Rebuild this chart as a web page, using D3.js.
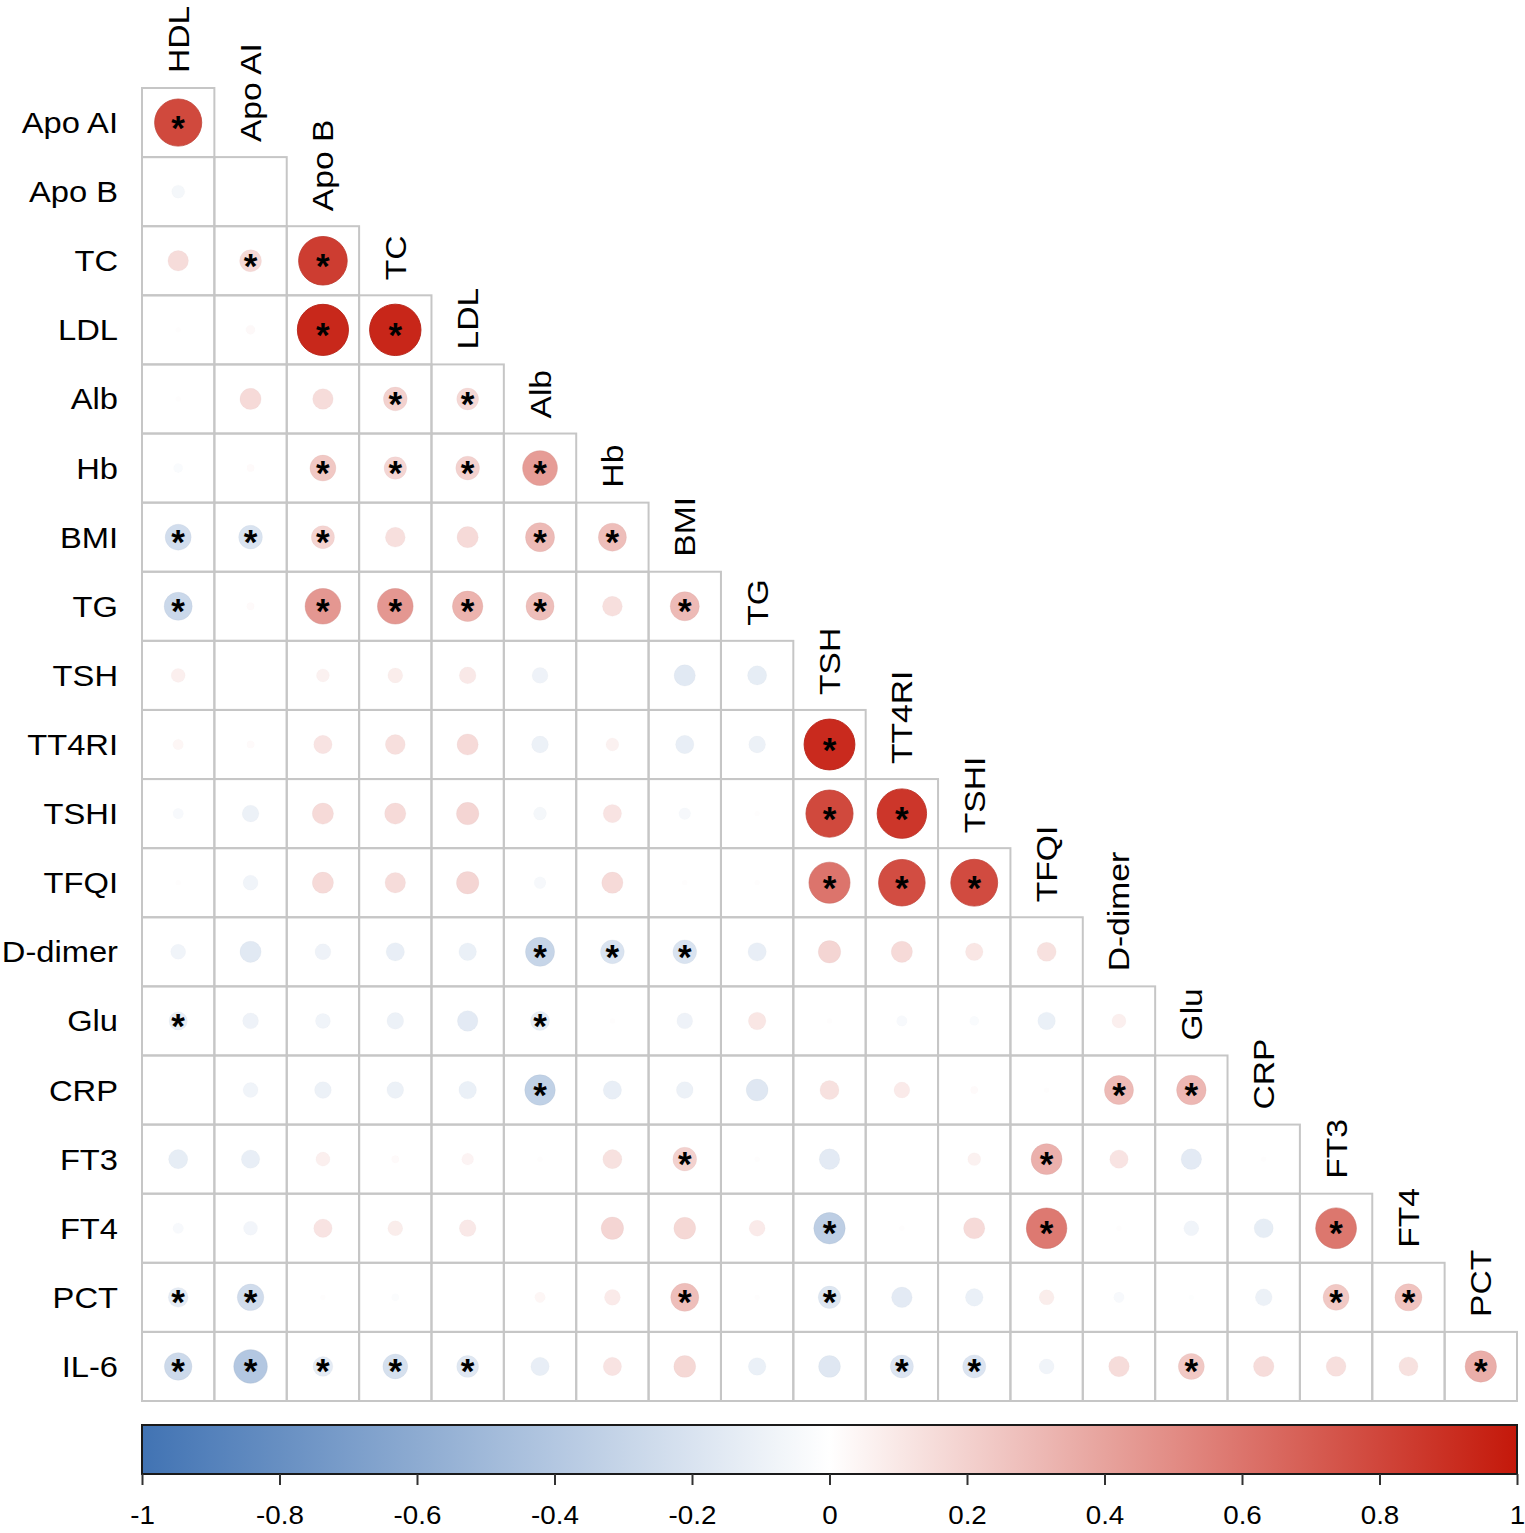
<!DOCTYPE html>
<html>
<head>
<meta charset="utf-8">
<script src="https://cdn.jsdelivr.net/npm/d3@7"></script>
<style>
  body { margin: 0; background: #fff; }
  svg { display: block; font-family: "Liberation Sans", Arial, sans-serif; }
</style>
</head>
<body>
<div id="chart"></div>
<script>
// variables on rows (lower triangle, no diagonal)
var rowLabels = ["Apo AI", "Apo B", "TC", "LDL", "Alb", "Hb", "BMI", "TG", "TSH", "TT4RI",
  "TSHI", "TFQI", "D-dimer", "Glu", "CRP", "FT3", "FT4", "PCT", "IL-6"];
var colLabels = ["HDL", "Apo AI", "Apo B", "TC", "LDL", "Alb", "Hb", "BMI", "TG", "TSH",
  "TT4RI", "TSHI", "TFQI", "D-dimer", "Glu", "CRP", "FT3", "FT4", "PCT"];

// correlation coefficients, row i has i+1 values
var corr = [
  [0.79],
  [-0.06, 0.00],
  [0.15, 0.17, 0.84],
  [0.01, 0.03, 0.93, 0.94],
  [0.01, 0.16, 0.15, 0.20, 0.17],
  [-0.03, 0.02, 0.24, 0.18, 0.20, 0.43],
  [-0.24, -0.20, 0.19, 0.14, 0.16, 0.30, 0.28],
  [-0.28, 0.02, 0.45, 0.45, 0.33, 0.28, 0.14, 0.30],
  [0.07, 0.00, 0.06, 0.08, 0.10, -0.09, 0.00, -0.16, -0.13],
  [0.04, 0.02, 0.12, 0.14, 0.16, -0.10, 0.06, -0.12, -0.10, 0.92],
  [-0.04, -0.10, 0.16, 0.16, 0.18, -0.06, 0.12, -0.05, 0.01, 0.79, 0.87],
  [0.01, -0.08, 0.16, 0.15, 0.18, -0.05, 0.16, 0.01, 0.01, 0.60, 0.77, 0.78],
  [-0.08, -0.16, -0.09, -0.12, -0.11, -0.30, -0.20, -0.20, -0.12, 0.18, 0.16, 0.11, 0.13],
  [-0.12, -0.09, -0.08, -0.10, -0.15, -0.13, 0.01, -0.09, 0.11, 0.01, -0.04, -0.03, -0.11, 0.07],
  [0.00, -0.08, -0.10, -0.10, -0.11, -0.33, -0.12, -0.10, -0.17, 0.13, 0.09, 0.02, 0.01, 0.30, 0.31],
  [-0.13, -0.12, 0.07, 0.02, 0.05, 0.01, 0.13, 0.20, 0.01, -0.15, 0.00, 0.06, 0.34, 0.12, -0.15, 0.01],
  [-0.04, -0.07, 0.12, 0.08, 0.10, 0.00, 0.18, 0.17, 0.09, -0.35, 0.01, 0.16, 0.58, 0.01, -0.08, -0.13, 0.59],
  [-0.14, -0.25, 0.01, -0.02, 0.00, 0.04, 0.09, 0.28, 0.01, -0.18, -0.15, -0.11, 0.08, -0.04, -0.01, -0.10, 0.24, 0.26],
  [-0.27, -0.40, -0.14, -0.22, -0.17, -0.12, 0.12, 0.17, -0.11, -0.17, -0.19, -0.19, -0.08, 0.15, 0.24, 0.15, 0.14, 0.13, 0.35]
];

// 1 = significant (marked with *)
var signif = [
  [1],
  [0, 0],
  [0, 1, 1],
  [0, 0, 1, 1],
  [0, 0, 0, 1, 1],
  [0, 0, 1, 1, 1, 1],
  [1, 1, 1, 0, 0, 1, 1],
  [1, 0, 1, 1, 1, 1, 0, 1],
  [0, 0, 0, 0, 0, 0, 0, 0, 0],
  [0, 0, 0, 0, 0, 0, 0, 0, 0, 1],
  [0, 0, 0, 0, 0, 0, 0, 0, 0, 1, 1],
  [0, 0, 0, 0, 0, 0, 0, 0, 0, 1, 1, 1],
  [0, 0, 0, 0, 0, 1, 1, 1, 0, 0, 0, 0, 0],
  [1, 0, 0, 0, 0, 1, 0, 0, 0, 0, 0, 0, 0, 0],
  [0, 0, 0, 0, 0, 1, 0, 0, 0, 0, 0, 0, 0, 1, 1],
  [0, 0, 0, 0, 0, 0, 0, 1, 0, 0, 0, 0, 1, 0, 0, 0],
  [0, 0, 0, 0, 0, 0, 0, 0, 0, 1, 0, 0, 1, 0, 0, 0, 1],
  [1, 1, 0, 0, 0, 0, 0, 1, 0, 1, 0, 0, 0, 0, 0, 0, 1, 1],
  [1, 1, 1, 1, 1, 0, 0, 0, 0, 0, 1, 1, 0, 0, 1, 0, 0, 0, 1]
];

var colorTicks = [-1, -0.8, -0.6, -0.4, -0.2, 0, 0.2, 0.4, 0.6, 0.8, 1];

var width = 1525, height = 1533;

var svg = d3.select("#chart")
  .append("svg")
  .attr("width", width)
  .attr("height", height);

var x = d3.scaleBand().domain(colLabels).range([142, 1517]);
var y = d3.scaleBand().domain(rowLabels).range([88, 1401]);
var radius = d3.scaleSqrt().domain([0, 1]).range([0, 26.5]);
var color = d3.scaleLinear()
  .domain([-1, 0, 1])
  .range(["#4173b3", "#ffffff", "#c4180a"]);

// flatten lower triangle into cells
var cells = [];
corr.forEach(function(row, i) {
  row.forEach(function(v, j) {
    cells.push({ row: rowLabels[i], col: colLabels[j], value: v, sig: signif[i][j] });
  });
});

// cell borders
svg.append("g")
  .selectAll("rect")
  .data(cells)
  .enter().append("rect")
  .attr("x", function(d) { return x(d.col); })
  .attr("y", function(d) { return y(d.row); })
  .attr("width", x.bandwidth())
  .attr("height", y.bandwidth())
  .style("fill", "none")
  .style("stroke", "#c6c6c6")
  .style("stroke-width", 2);

// circles (thin rim only shows on the strong ones)
svg.append("g")
  .selectAll("circle")
  .data(cells)
  .enter().append("circle")
  .attr("cx", function(d) { return x(d.col) + x.bandwidth() / 2; })
  .attr("cy", function(d) { return y(d.row) + y.bandwidth() / 2; })
  .attr("r", function(d) { return radius(Math.abs(d.value)); })
  .style("fill", function(d) { return color(d.value); })
  .style("stroke", function(d) { return d3.color(color(d.value)).darker(0.25); })
  .style("stroke-opacity", function(d) { return Math.abs(d.value); })
  .style("stroke-width", 1);

// significance stars
svg.append("g")
  .selectAll("text")
  .data(cells.filter(function(d) { return d.sig; }))
  .enter().append("text")
  .attr("x", function(d) { return x(d.col) + x.bandwidth() / 2; })
  .attr("y", function(d) { return y(d.row) + y.bandwidth() / 2 + 17; })
  .attr("text-anchor", "middle")
  .style("font-size", "35px")
  .style("font-weight", "bold")
  .style("fill", "#000")
  .text("*");

// row labels
svg.append("g")
  .selectAll("text")
  .data(rowLabels)
  .enter().append("text")
  .attr("transform", function(d) {
    return "translate(118," + (y(d) + y.bandwidth() / 2) + ") scale(1.09,1)";
  })
  .attr("dy", "0.35em")
  .attr("text-anchor", "end")
  .style("font-size", "30px")
  .style("fill", "#000")
  .text(function(d) { return d; });

// column labels, above the diagonal step
svg.append("g")
  .selectAll("text")
  .data(colLabels)
  .enter().append("text")
  .attr("transform", function(d, j) {
    var cx = x(d) + x.bandwidth() / 2;
    var top = y(rowLabels[j]) - 15;
    return "translate(" + cx + "," + top + ") rotate(-90) scale(1.12,1)";
  })
  .attr("dy", "0.35em")
  .attr("text-anchor", "start")
  .style("font-size", "30px")
  .style("fill", "#000")
  .text(function(d) { return d; });

// colour bar
var cb = d3.scaleLinear().domain([-1, 1]).range([142, 1517]);
var grad = svg.append("defs").append("linearGradient")
  .attr("id", "cbar")
  .attr("x1", "0%").attr("x2", "100%");
grad.selectAll("stop")
  .data(d3.range(0, 21))
  .enter().append("stop")
  .attr("offset", function(d) { return (d * 5) + "%"; })
  .attr("stop-color", function(d) { return color(-1 + d * 0.1); });

svg.append("rect")
  .attr("x", cb(-1))
  .attr("y", 1425)
  .attr("width", cb(1) - cb(-1))
  .attr("height", 49)
  .style("fill", "url(#cbar)")
  .style("stroke", "#1a1a1a")
  .style("stroke-width", 2);

var axis = svg.append("g")
  .attr("transform", "translate(0,1474)")
  .call(d3.axisBottom(cb)
    .tickValues(colorTicks)
    .tickSize(11)
    .tickPadding(21)
    .tickFormat(function(d) { return String(d); }));
axis.select(".domain").remove();
axis.selectAll(".tick line").style("stroke", "#333").style("stroke-width", 2);
axis.selectAll(".tick text")
  .attr("transform", "scale(1.11,1)")
  .style("font-size", "25px")
  .style("font-family", "'Liberation Sans', Arial, sans-serif")
  .style("fill", "#000");
</script>
</body>
</html>
